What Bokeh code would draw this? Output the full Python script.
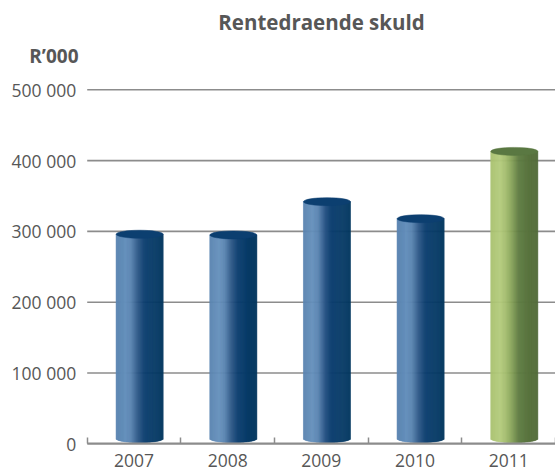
import numpy as np
from bokeh.plotting import figure
from bokeh.models import Range1d, FixedTicker, Label
from bokeh.embed import file_html
from bokeh.resources import INLINE

# ---------------- data ----------------
years = ["2007", "2008", "2009", "2010", "2011"]
debt = [296000, 295000, 342000, 318000, 413000]
bar_style = ["blue", "blue", "blue", "blue", "green"]
y_ticks = [0, 100000, 200000, 300000, 400000, 500000]
y_tick_labels = ["0", "100 000", "200 000", "300 000", "400 000", "500 000"]
title_text = "Rentedraende skuld"
unit_text = "R\u2019000"

# ---------------- styles / layout ----------------
GRAD = {
    "blue": [(0.0, "#5a84b0"), (0.2, "#6590bc"), (0.32, "#5b85b1"), (0.46, "#2e5988"),
             (0.6, "#0b3e6f"), (1.0, "#03375f")],
    "green": [(0.0, "#a9c270"), (0.2, "#b3cb7c"), (0.32, "#a6bf6f"), (0.46, "#85a058"),
              (0.6, "#5f7c43"), (1.0, "#536c3a")],
}
TOP = {"blue": "#0c3f70", "green": "#5a7842"}
TEXT = "#575757"
GRID = "#8c8c8c"
FONT = "Open Sans"

W, H = 555, 470
AX_LEFT = 86.7                      # canvas x of first category boundary
CAT_PX = (W - AX_LEFT) / len(years)
Y0_PX = 443.3                       # canvas y of value 0
PXV = 354.0 / 500000.0              # pixels per unit value

x_start = -0.5 - AX_LEFT / CAT_PX
x_end = -0.5 + (W - AX_LEFT) / CAT_PX
y_end = Y0_PX / PXV
y_start = -(H - Y0_PX) / PXV


def fx(px):
    return -0.5 + (px - AX_LEFT) / CAT_PX


def fy(py):
    return (Y0_PX - py) / PXV


def hex2rgb(h):
    h = h.lstrip("#")
    return np.array([int(h[i:i + 2], 16) for i in (0, 2, 4)], dtype=float)


def grad_color(stops, t):
    for (t0, c0), (t1, c1) in zip(stops[:-1], stops[1:]):
        if t0 <= t <= t1:
            f = (t - t0) / (t1 - t0) if t1 > t0 else 0
            c = hex2rgb(c0) * (1 - f) + hex2rgb(c1) * f
            return "#%02x%02x%02x" % tuple(int(round(v)) for v in c)
    return stops[-1][1]


p = figure(width=W, height=H, x_range=Range1d(x_start, x_end),
           y_range=Range1d(y_start, y_end), output_backend="svg",
           toolbar_location=None, min_border_left=0, min_border_right=0,
           min_border_top=0, min_border_bottom=0, outline_line_color=None)
p.background_fill_color = "white"
p.border_fill_color = "white"
p.xgrid.visible = False
p.ygrid.visible = False

bounds = list(np.arange(len(years) + 1) - 0.5)

# horizontal gridlines (from the first boundary to the right edge)
p.segment(x0=[bounds[0]] * len(y_ticks), y0=y_ticks, x1=[x_end] * len(y_ticks),
          y1=y_ticks, line_color=GRID, line_width=1.6)

# y axis (drawn inside the frame at the first boundary)
yax = p.yaxis[0]
yax.fixed_location = bounds[0]
yax.ticker = FixedTicker(ticks=y_ticks)
yax.major_label_overrides = {t: l for t, l in zip(y_ticks, y_tick_labels)}
yax.axis_line_color = None
yax.major_tick_line_color = None
yax.minor_tick_line_color = None
yax.major_tick_out = 0
yax.major_tick_in = 0
yax.major_label_standoff = 11
yax.major_label_text_font = FONT
yax.major_label_text_font_size = "17.5px"
yax.major_label_text_color = TEXT

# bars (cylinders)
hw = 0.251
x_shift = 0.06
e_h = 4.0 / PXV
n_strips = 48
for i, (v, st) in enumerate(zip(debt, bar_style)):
    xc = i + x_shift
    edges = np.linspace(xc - hw, xc + hw, n_strips + 1)
    lefts, rights, bottoms, tops, cols = [], [], [], [], []
    for k in range(n_strips):
        u = ((edges[k] + edges[k + 1]) / 2 - xc) / hw
        t = (u + 1) / 2
        lefts.append(edges[k])
        rights.append(edges[k + 1])
        bottoms.append(e_h - e_h * np.sqrt(max(0.0, 1 - u * u)) + 1.2 / PXV)
        tops.append(v)
        cols.append(grad_color(GRAD[st], t))
    p.quad(left=lefts, right=rights, bottom=bottoms, top=tops,
           fill_color=cols, line_color=cols, line_width=0.6)
    p.ellipse(x=[xc], y=[v], width=[2 * hw], height=[2 * e_h],
              fill_color=TOP[st], line_color=TOP[st], line_width=0.5)

# x axis (baseline at 0, ticks at category boundaries)
xax = p.xaxis[0]
xax.fixed_location = 0
xax.bounds = (bounds[0], bounds[-1])
xax.ticker = FixedTicker(ticks=list(range(len(years))), minor_ticks=bounds)
xax.major_label_overrides = {i: y for i, y in enumerate(years)}
xax.axis_line_color = GRID
xax.axis_line_width = 2
xax.major_tick_line_color = None
xax.major_tick_in = 0
xax.major_tick_out = 0
xax.minor_tick_line_color = GRID
xax.minor_tick_line_width = 1.5
xax.minor_tick_in = 6
xax.minor_tick_out = 0
xax.major_label_standoff = 10
xax.major_label_text_font = FONT
xax.major_label_text_font_size = "17.5px"
xax.major_label_text_color = TEXT

# title and unit
p.add_layout(Label(x=fx(321), y=fy(21), text=title_text,
                   text_align="center", text_baseline="middle", text_font=FONT,
                   text_font_style="bold", text_font_size="20.5px", text_color=TEXT))
p.add_layout(Label(x=fx(78), y=fy(55.6), text=unit_text, text_align="right",
                   text_baseline="middle", text_font=FONT, text_font_style="bold",
                   text_font_size="19px", text_color=TEXT))

open("out.html", "w").write(file_html(p, INLINE))
